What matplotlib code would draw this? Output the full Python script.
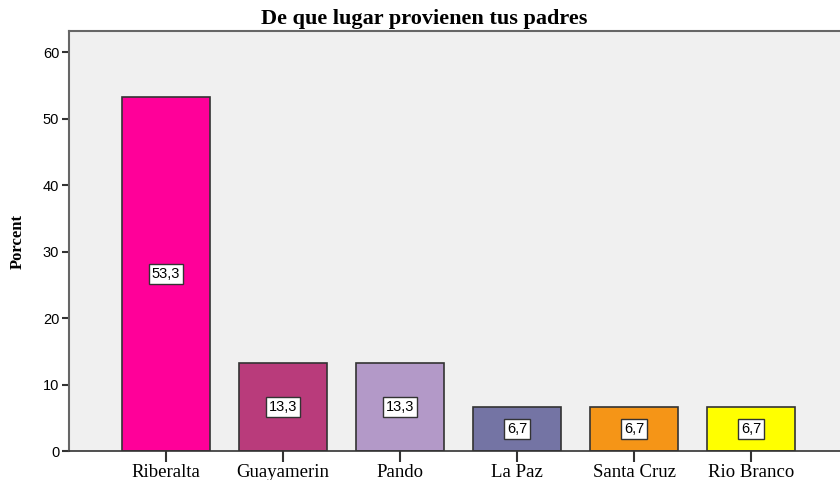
import matplotlib
matplotlib.use("Agg")
import matplotlib.pyplot as plt

# data
lugares = ["Riberalta", "Guayamerin", "Pando", "La Paz", "Santa Cruz", "Rio Branco"]
porcent = [53.3, 13.3, 13.3, 6.7, 6.7, 6.7]
colores = ["#FF0099", "#B93B7B", "#B399C8", "#7474A4", "#F59517", "#FFFF00"]
yticks = [0, 10, 20, 30, 40, 50, 60]

fig = plt.figure(figsize=(8.4, 4.8), dpi=100)
ax = fig.add_axes([0.082, 0.060, 0.918, 0.875])
ax.set_facecolor("#F0F0F0")

x = range(len(lugares))
bars = ax.bar(x, porcent, width=0.745, color=colores, edgecolor="#333333", linewidth=1.2)

for b, v in zip(bars, porcent):
    ax.text(b.get_x() + b.get_width() / 2, v / 2, f"{v:.1f}".replace(".", ","),
            ha="center", va="center", fontsize=10.5, family="Liberation Sans",
            bbox=dict(boxstyle="square,pad=0.22", fc="white", ec="#333333", lw=1))

ax.set_xlim(-0.83, 5.76)
ax.set_ylim(0, 63.2)
ax.set_yticks(yticks)
ax.set_xticks(list(x))
ax.set_xticklabels(lugares, family="Liberation Serif", fontsize=13.5)
for lab in ax.get_yticklabels():
    lab.set_family("Liberation Sans")
    lab.set_fontsize(10.5)
ax.tick_params(axis="y", length=5, width=1.5, color="#333333", pad=2)
ax.tick_params(axis="x", length=8, width=1.5, color="#333333", pad=1)

for s in ["left", "top"]:
    ax.spines[s].set_color("#666666")
    ax.spines[s].set_linewidth(1.5)
ax.spines["bottom"].set_color("#333333")
ax.spines["bottom"].set_linewidth(1.2)
ax.spines["right"].set_visible(False)

ax.set_ylabel("Porcent", family="Liberation Serif", fontsize=12, fontweight="bold", labelpad=12)
fig.text(0.505, 0.961, "De que lugar provienen tus padres", ha="center", va="center",
         family="Liberation Serif", fontsize=16, fontweight="bold")

fig.savefig("out.png", dpi=100)
